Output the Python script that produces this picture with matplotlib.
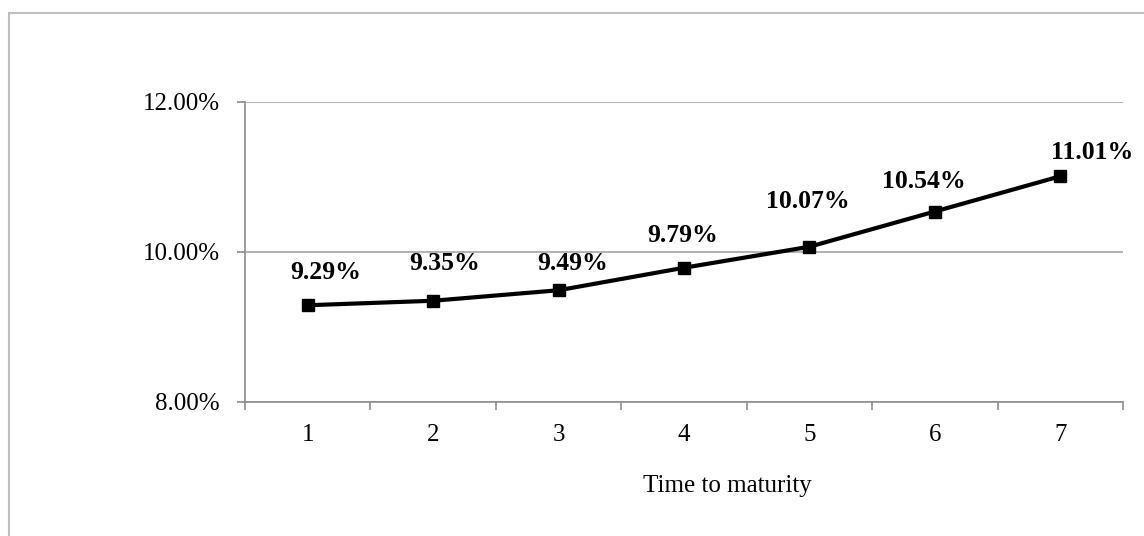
import numpy as np
import matplotlib.pyplot as plt
from matplotlib.patches import Rectangle
from matplotlib.ticker import FuncFormatter

# =========================================
# DONNEES
# =========================================

maturity = [1, 2, 3, 4, 5, 6, 7]
rates = [9.29, 9.35, 9.49, 9.79, 10.07, 10.54, 11.01]
rate_labels = ["9.29%", "9.35%", "9.49%", "9.79%", "10.07%", "10.54%", "11.01%"]

# decalage des etiquettes (pixels), place a la main comme dans l'original
label_dx = [18, 11, 14, -1, -2, -11, 32]
label_dy = [33, 37, 27, 32, 45, 30, 24]

plt.rcParams['font.family'] = ['Liberation Serif', 'DejaVu Serif']

W, H = 1144, 536
fig = plt.figure(figsize=(W / 100, H / 100), dpi=100)

# cadre gris autour du graphique (coupe a droite et en bas)
fig.patches.append(Rectangle((9 / W, -0.1), 1.2, 1.1 - 13 / H,
                             transform=fig.transFigure, fill=False,
                             edgecolor='#bfbfbf', linewidth=1.5))

ax = fig.add_axes([245 / W, 1 - 402 / H, (1123 - 245) / W, (402 - 102) / H])

x = np.arange(len(maturity))
ax.plot(x, rates, color='black', linewidth=3.0, marker='s', markersize=9,
        markerfacecolor='black', markeredgecolor='black')

for xi, yi, txt, dx, dy in zip(x, rates, rate_labels, label_dx, label_dy):
    ax.annotate(txt, (xi, yi), xytext=(dx * 0.72, dy * 0.72),
                textcoords='offset points', ha='center', va='center',
                fontsize=18.5, fontweight='bold')

ax.set_xlim(-0.5, len(maturity) - 0.5)
ax.set_ylim(8, 12)
ax.set_yticks([8, 10, 12])
ax.yaxis.set_major_formatter(FuncFormatter(lambda v, p: f"{v:.2f}%"))

ax.set_xticks(x)
ax.set_xticklabels([str(m) for m in maturity])
ax.set_xticks(np.arange(len(maturity) + 1) - 0.5, minor=True)

ax.grid(True, axis='y', color='#a6a6a6', linewidth=1.2)
ax.set_axisbelow(True)

for s in ['top', 'right']:
    ax.spines[s].set_visible(False)
for s in ['left', 'bottom']:
    ax.spines[s].set_color('#8c8c8c')
    ax.spines[s].set_linewidth(1.2)

ax.tick_params(axis='x', which='major', length=0, pad=16, labelsize=18)
ax.tick_params(axis='x', which='minor', length=6, width=1.2, color='#8c8c8c')
ax.tick_params(axis='y', length=6, width=1.2, color='#8c8c8c', pad=12,
               labelsize=18)

fig.text(727 / W, 1 - 486 / H, "Time to maturity", ha='center', va='center',
         fontsize=18)

fig.savefig("out.png", dpi=100)
